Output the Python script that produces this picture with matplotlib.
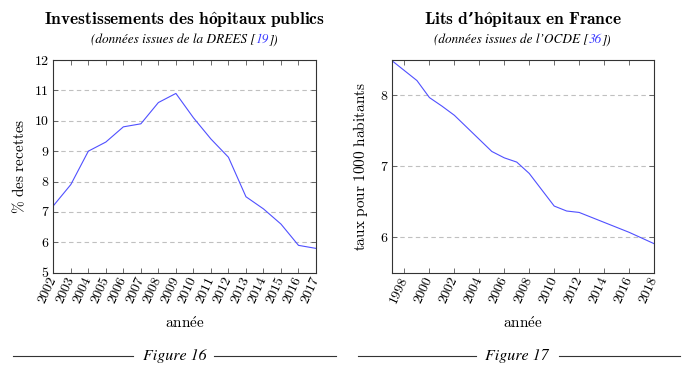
import matplotlib
matplotlib.use("Agg")
import matplotlib.pyplot as plt
from matplotlib.lines import Line2D

# données
annees_inv = list(range(2002, 2018))
invest = [7.2, 7.9, 9.0, 9.3, 9.8, 9.9, 10.6, 10.9, 10.1, 9.4, 8.8, 7.5, 7.1, 6.6, 5.9, 5.8]

annees_lits = list(range(1997, 2019))
lits = [8.49, 8.35, 8.21, 7.97, 7.85, 7.72, 7.55, 7.38, 7.21, 7.12, 7.06, 6.90,
        6.67, 6.44, 6.37, 6.35, 6.28, 6.21, 6.14, 6.07, 5.99, 5.91]

RM = ["cmr10", "DejaVu Serif"]
IT = "STIXGeneral"
LINE = "#5050ff"

plt.rcParams["font.family"] = RM
plt.rcParams["mathtext.fontset"] = "cm"
plt.rcParams["axes.unicode_minus"] = False

fig = plt.figure(figsize=(6.92, 3.74), dpi=100)
W, H = 692, 374


def px_axes(x0, x1, y0, y1):
    return fig.add_axes([x0 / W, 1 - y1 / H, (x1 - x0) / W, (y1 - y0) / H])


def style(ax):
    for s in ax.spines.values():
        s.set_linewidth(0.8)
        s.set_color("#333333")
    ax.tick_params(direction="in", top=True, right=True, length=3.5,
                   width=0.6, color="#555555", labelsize=10)
    ax.grid(axis="y", linestyle=(0, (4, 3)), color="#c0c0c0", linewidth=0.8)
    ax.set_axisbelow(True)
    for lab in ax.get_xticklabels():
        lab.set_rotation(65)
        lab.set_ha("right")
        lab.set_va("center")
        lab.set_rotation_mode("anchor")


def subtitle(cx, y, parts):
    r = fig.canvas.get_renderer()
    full = "".join(p for p, _ in parts)
    t = fig.text(cx, y, full, ha="center", va="center", family=IT,
                 style="italic", fontsize=9.5)
    x = t.get_window_extent(r).x0 / W
    t.remove()
    for p, c in parts:
        t = fig.text(x, y, p, ha="left", va="center", family=IT,
                     style="italic", fontsize=9.5, color=c)
        x = t.get_window_extent(r).x1 / W


def caption(x_l0, x_l1, x_r0, x_r1, cx, txt):
    y = 1 - 356 / H
    for a, b in ((x_l0, x_l1), (x_r0, x_r1)):
        fig.add_artist(Line2D([a / W, b / W], [y, y], color="#333333", lw=0.8))
    fig.text(cx / W, y, txt, ha="center", va="center", family=IT,
             style="italic", fontsize=11.5)


XLAB = r"$\mathrm{ann\acute{e}e}$"

# Figure 16
ax1 = px_axes(53.3, 316, 60, 272.7)
ax1.plot(annees_inv, invest, color=LINE, lw=0.8)
ax1.set_xlim(2002, 2017)
ax1.set_ylim(5, 12)
ax1.set_xticks(annees_inv)
ax1.set_yticks(range(5, 13))
style(ax1)
ax1.set_ylabel(r"$\%\ \mathrm{des\ recettes}$", fontsize=11, labelpad=5)
ax1.set_xlabel(XLAB, fontsize=11, labelpad=7)
fig.text(184.6 / W, 1 - 20 / H,
         r"$\mathbf{Investissements\ des\ h\hat{o}pitaux\ publics}$",
         ha="center", va="center", fontsize=12.5)
subtitle(184.6 / W, 1 - 40 / H,
         [("(données issues de la DREES [", "black"), ("19", "#3a3aff"), ("])", "black")])
caption(13, 133, 214, 336, 175, "Figure 16")

# Figure 17
ax2 = px_axes(392, 654, 60, 272.7)
ax2.plot(annees_lits, lits, color=LINE, lw=0.8)
ax2.set_xlim(1997, 2018)
ax2.set_ylim(5.5, 8.5)
ax2.set_xticks(range(1998, 2019, 2))
ax2.set_yticks([6, 7, 8])
style(ax2)
ax2.set_ylabel(r"$\mathrm{taux\ pour\ 1000\ habitants}$", fontsize=11, labelpad=7)
ax2.set_xlabel(XLAB, fontsize=11, labelpad=7)
fig.text(523 / W, 1 - 20 / H,
         r"$\mathbf{Lits\ d}$’$\mathbf{h\hat{o}pitaux\ en\ France}$",
         ha="center", va="center", fontsize=12.5, family="DejaVu Serif",
         fontweight="bold")
subtitle(523 / W, 1 - 40 / H,
         [("(données issues de l’OCDE [", "black"), ("36", "#3a3aff"), ("])", "black")])
caption(358, 476, 559, 680, 517, "Figure 17")

fig.savefig("out.png", dpi=100)
